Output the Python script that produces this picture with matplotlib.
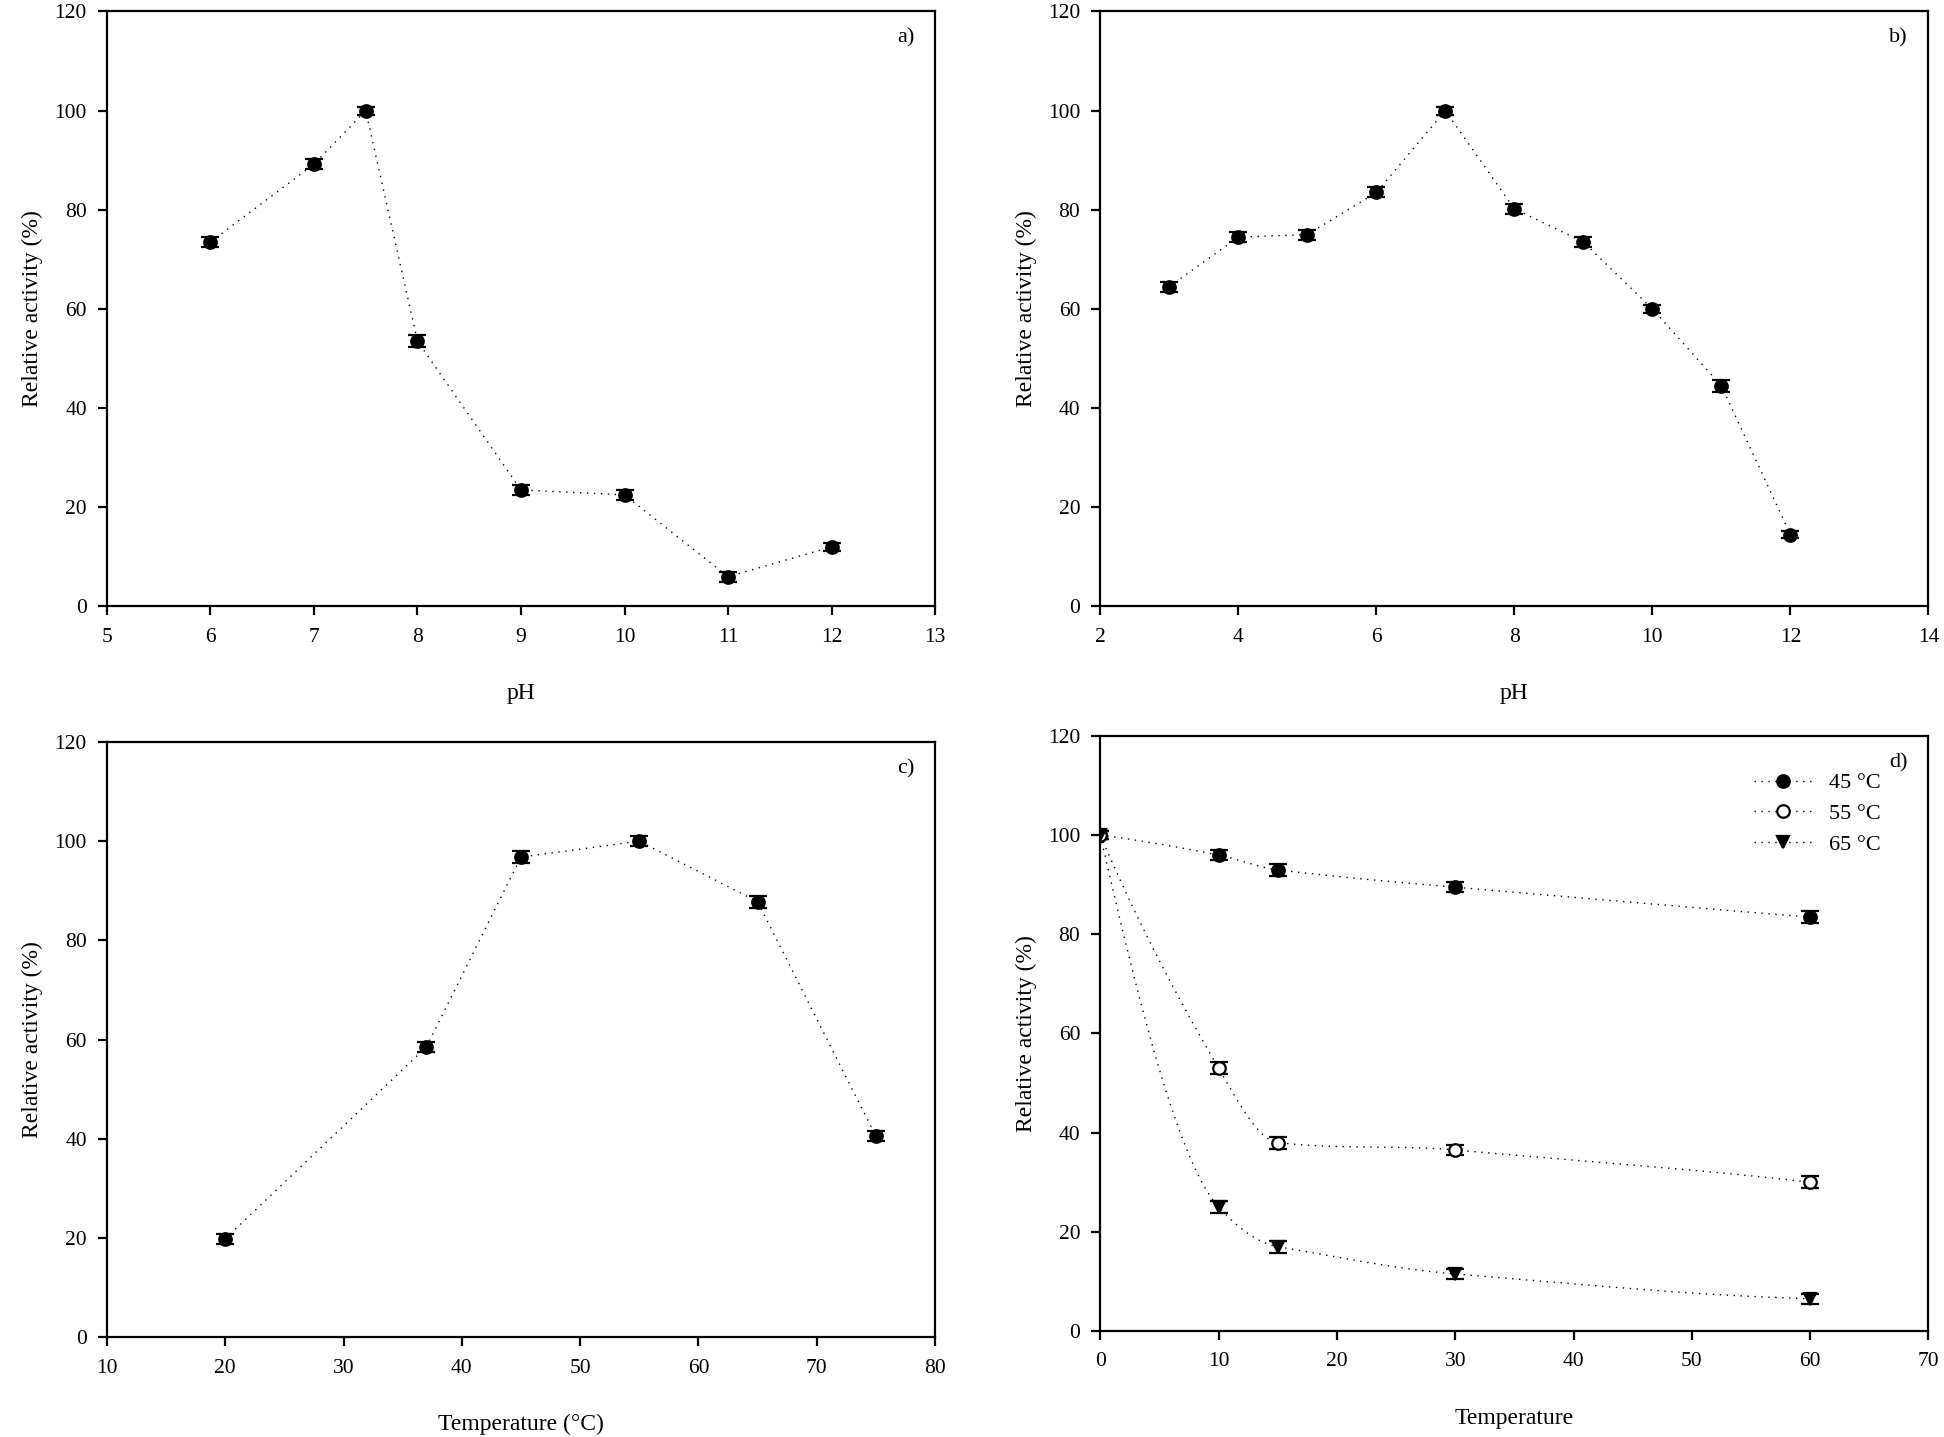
"""
plot.py - relative activity vs pH / temperature (4 panels). Writes out.png.
"""
import numpy as np
import matplotlib
matplotlib.use("Agg")
import matplotlib.pyplot as plt

plt.rcParams["font.family"] = ["Liberation Serif", "DejaVu Serif"]

# panel a: pH profile
ph_a = [6, 7, 7.5, 8, 9, 10, 11, 12]
act_a = [73.5, 89.2, 100.0, 53.5, 23.5, 22.5, 6.0, 12.0]
err_a = [1.0, 1.0, 0.8, 1.2, 1.0, 1.0, 1.0, 0.8]

# panel b: pH profile
ph_b = [3, 4, 5, 6, 7, 8, 9, 10, 11, 12]
act_b = [64.5, 74.5, 75.0, 83.5, 100.0, 80.2, 73.5, 60.0, 44.5, 14.5]
err_b = [1.0, 1.0, 1.0, 1.0, 0.8, 1.0, 1.0, 0.8, 1.2, 0.8]

# panel c: temperature profile
temp_c = [20, 37, 45, 55, 65, 75]
act_c = [19.8, 58.5, 96.8, 100.0, 87.8, 40.5]
err_c = [1.0, 1.0, 1.2, 1.0, 1.2, 1.0]

# panel d: thermostability
time_d = [0, 10, 15, 30, 60]
series_d = {
    "45 °C": ([100.0, 96.0, 93.0, 89.5, 83.5], [0.8, 1.0, 1.2, 1.0, 1.2]),
    "55 °C": ([100.0, 53.0, 38.0, 36.5, 30.0], [0.8, 1.2, 1.2, 1.0, 1.2]),
    "65 °C": ([100.0, 25.0, 17.0, 11.5, 6.5], [0.8, 1.2, 1.2, 1.0, 1.0]),
}
markers_d = {"45 °C": ("o", "black"), "55 °C": ("o", "white"), "65 °C": ("v", "black")}

DOT = (0, (1, 4))


def smooth(x, y, n=300):
    """Akima-style local cubic through the points (no big overshoot)"""
    x = np.asarray(x, float)
    y = np.asarray(y, float)
    h = np.diff(x)
    d = np.diff(y) / h
    # extend secants at both ends
    dd = np.concatenate([[3 * d[0] - 2 * d[1], 2 * d[0] - d[1]], d,
                         [2 * d[-1] - d[-2], 3 * d[-1] - 2 * d[-2]]])
    m = np.zeros(len(x))
    for i in range(len(x)):
        w1 = abs(dd[i + 3] - dd[i + 2])
        w2 = abs(dd[i + 1] - dd[i])
        if w1 + w2 == 0:
            m[i] = 0.5 * (dd[i + 1] + dd[i + 2])
        else:
            m[i] = (w1 * dd[i + 1] + w2 * dd[i + 2]) / (w1 + w2)
    xs = np.linspace(x[0], x[-1], n)
    k = np.clip(np.searchsorted(x, xs) - 1, 0, len(x) - 2)
    t = (xs - x[k]) / h[k]
    h00 = 2 * t ** 3 - 3 * t ** 2 + 1
    h10 = t ** 3 - 2 * t ** 2 + t
    h01 = -2 * t ** 3 + 3 * t ** 2
    h11 = t ** 3 - t ** 2
    ys = h00 * y[k] + h10 * h[k] * m[k] + h01 * y[k + 1] + h11 * h[k] * m[k + 1]
    return xs, ys


def draw(ax, x, y, e, marker="o", fc="black", label=None, curve=False):
    if curve:
        xs, ys = smooth(x, y)
    else:
        xs, ys = x, y
    ax.plot(xs, ys, ls=DOT, color="black", lw=1.0)
    ax.errorbar(x, y, yerr=e, fmt=marker, ms=9, mfc=fc, mec="black", mew=1.6,
                ecolor="black", elinewidth=1.5, capsize=6.5, capthick=2, zorder=3)
    if label:
        ax.plot([], [], ls=DOT, color="black", lw=1.0, marker=marker,
                ms=9, mfc=fc, mec="black", mew=1.6, label=label)


def style(ax, xlim, xticks, xlabel, tag):
    ax.set_xlim(*xlim)
    ax.set_xticks(xticks)
    ax.set_ylim(0, 120)
    ax.set_yticks(range(0, 121, 20))
    ax.tick_params(direction="out", length=6.5, width=1.6, labelsize=15.5)
    ax.tick_params(axis="y", pad=8)
    ax.tick_params(axis="x", pad=9)
    for s in ax.spines.values():
        s.set_linewidth(1.6)
    ax.set_ylabel("Relative activity (%)", fontsize=17, labelpad=8)
    ax.set_xlabel(xlabel, fontsize=17, labelpad=26)
    ax.text(0.975, 0.955, tag, transform=ax.transAxes, ha="right", va="center",
            fontsize=16)


fig = plt.figure(figsize=(19.44, 14.37), dpi=100)
ax_a = fig.add_axes([0.055, 0.578, 0.426, 0.414])
ax_b = fig.add_axes([0.566, 0.578, 0.426, 0.414])
ax_c = fig.add_axes([0.055, 0.0696, 0.426, 0.414])
ax_d = fig.add_axes([0.566, 0.0738, 0.426, 0.414])

draw(ax_a, ph_a, act_a, err_a)
style(ax_a, (5, 13), range(5, 14), "pH", "a)")

draw(ax_b, ph_b, act_b, err_b)
style(ax_b, (2, 14), range(2, 15, 2), "pH", "b)")

draw(ax_c, temp_c, act_c, err_c)
style(ax_c, (10, 80), range(10, 81, 10), "Temperature (°C)", "c)")

for name, (vals, errs) in series_d.items():
    m, fc = markers_d[name]
    draw(ax_d, time_d, vals, errs, marker=m, fc=fc, label=name, curve=True)
style(ax_d, (0, 70), range(0, 71, 10), "Temperature", "d)")
ax_d.legend(loc="upper right", bbox_to_anchor=(0.943, 0.938), frameon=False,
            fontsize=16, handlelength=2.6, labelspacing=0.45,
            borderaxespad=0, borderpad=0)

fig.savefig("out.png", dpi=100)
print("wrote out.png")
